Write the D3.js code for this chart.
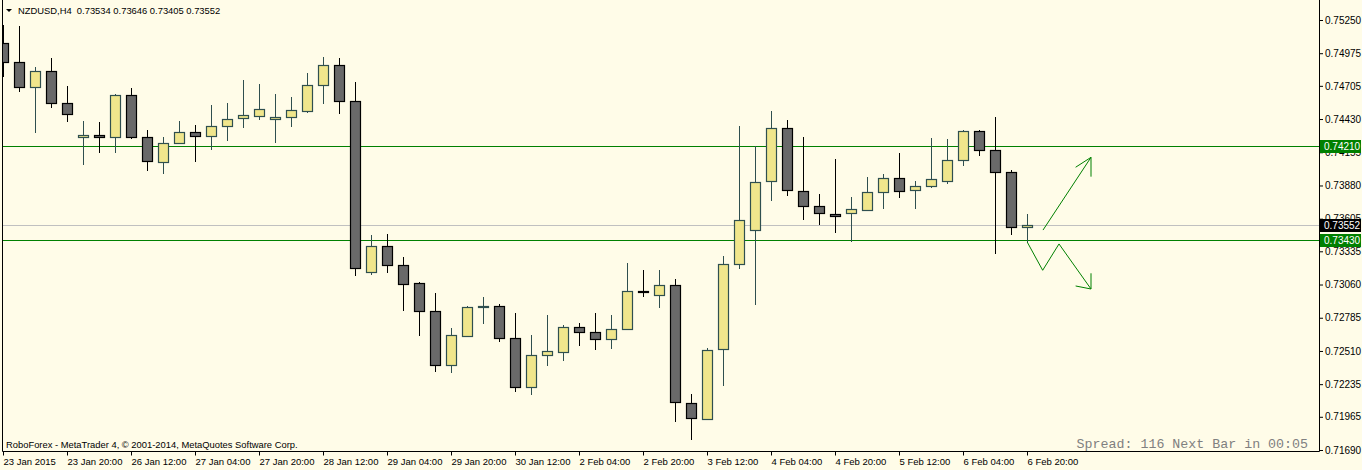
<!DOCTYPE html>
<html>
<head>
<meta charset="utf-8">
<script src="https://cdn.jsdelivr.net/npm/d3@7/dist/d3.min.js"></script>
<style>
  body { margin: 0; background: #fffce8; }
  svg text { font-family: "Liberation Sans", Arial, sans-serif; }
</style>
</head>
<body>
<div class="candle-chart"></div>
<script>
// NZDUSD H4 bars, 23 Jan 04:00 .. 6 Feb 20:00
var symbolTitle = "NZDUSD,H4  0.73534 0.73646 0.73405 0.73552";
var footerText = "RoboForex - MetaTrader 4, \u00a9 2001-2014, MetaQuotes Software Corp.";
var spreadText = "Spread: 116 Next Bar in 00:05";

var opens = [0.75060,0.74902,0.74695,0.74828,0.74563,0.74281,0.74298,0.74281,0.74629,0.74281,
  0.74074,0.74232,0.74323,0.74290,0.74372,0.74439,0.74455,0.74430,0.74447,0.74497,
  0.74712,0.74877,0.74579,0.73164,0.73379,0.73222,0.73073,0.72841,0.72394,0.72634,
  0.72874,0.72882,0.72617,0.72212,0.72477,0.72501,0.72708,0.72667,0.72609,0.72692,
  0.73006,0.72973,0.73056,0.72079,0.71947,0.72526,0.73230,0.73511,0.73917,0.74356,
  0.73834,0.73710,0.73644,0.73652,0.73677,0.73826,0.73942,0.73843,0.73876,0.73917,
  0.74091,0.74331,0.74174,0.73992,0.73534];
var highs = [0.75209,0.75200,0.74861,0.74935,0.74704,0.74414,0.74406,0.74637,0.74687,0.74339,
  0.74281,0.74414,0.74381,0.74546,0.74563,0.74753,0.74720,0.74637,0.74613,0.74811,
  0.74944,0.74935,0.74737,0.73470,0.73478,0.73288,0.73081,0.72990,0.72700,0.72882,
  0.72957,0.72899,0.72824,0.72642,0.72808,0.72725,0.72742,0.72824,0.72808,0.73238,
  0.73180,0.73180,0.73106,0.72154,0.72535,0.73296,0.74372,0.74207,0.74497,0.74422,
  0.74281,0.73810,0.74099,0.73785,0.73950,0.73975,0.74149,0.73917,0.74273,0.74265,
  0.74339,0.74339,0.74447,0.74008,0.73646];
var lows = [0.74778,0.74654,0.74314,0.74521,0.74406,0.74050,0.74149,0.74149,0.74265,0.74000,
  0.73975,0.74223,0.74074,0.74174,0.74248,0.74356,0.74422,0.74232,0.74364,0.74480,
  0.74555,0.74472,0.73131,0.73139,0.73155,0.72841,0.72634,0.72336,0.72328,0.72626,
  0.72733,0.72584,0.72170,0.72145,0.72385,0.72427,0.72551,0.72518,0.72526,0.72684,
  0.72957,0.72866,0.71922,0.71773,0.71940,0.72220,0.73189,0.72891,0.73752,0.73793,
  0.73594,0.73553,0.73487,0.73412,0.73669,0.73685,0.73776,0.73685,0.73859,0.73892,
  0.74041,0.74124,0.73313,0.73470,0.73405];
var closes = [0.74902,0.74695,0.74828,0.74563,0.74472,0.74298,0.74281,0.74629,0.74281,0.74083,
  0.74232,0.74323,0.74290,0.74372,0.74430,0.74464,0.74513,0.74447,0.74505,0.74712,
  0.74877,0.74579,0.73197,0.73379,0.73222,0.73064,0.72841,0.72394,0.72642,0.72874,
  0.72882,0.72617,0.72212,0.72477,0.72510,0.72708,0.72667,0.72609,0.72692,0.73006,
  0.73000,0.73056,0.72087,0.71955,0.72518,0.73230,0.73594,0.73909,0.74356,0.73843,
  0.73710,0.73652,0.73627,0.73685,0.73826,0.73942,0.73834,0.73876,0.73934,0.74091,
  0.74331,0.74174,0.73992,0.73536,0.73552];

// time axis, one label every 4 bars
var timeTickBars = [0,4,8,12,16,20,24,28,32,36,40,44,48,52,56,60,64];
var timeLabels = ["23 Jan 2015","23 Jan 20:00","26 Jan 12:00","27 Jan 04:00","27 Jan 20:00",
  "28 Jan 12:00","29 Jan 04:00","29 Jan 20:00","30 Jan 12:00","2 Feb 04:00","2 Feb 20:00",
  "3 Feb 12:00","4 Feb 04:00","4 Feb 20:00","5 Feb 12:00","6 Feb 04:00","6 Feb 20:00"];
var priceTicks = [0.75250,0.74975,0.74705,0.74430,0.74155,0.73880,0.73605,
  0.73335,0.73060,0.72785,0.72510,0.72235,0.71965,0.71690];

var greenLevels = [0.74210, 0.73430];
var bidLevel = 0.73552;

// hand drawn arrows (bar index, price)
var upArrow = [[65.0,0.73511],[68.0,0.74113]];
var upHead = [[67.04,0.74031],[68.0,0.74113],[68.0,0.73953]];
var downArrow = [[64.02,0.73410],[64.98,0.73178],[66.0,0.73396],[68.0,0.73023]];
var downHead = [[67.04,0.73048],[68.0,0.73023],[68.0,0.73153]];

function CandleChart(){
    var self = this;
    self.init();
};

CandleChart.prototype.init = function(){
    var self = this;
    self.width = 1362;
    self.height = 470;
    self.plot = {left: 3, right: 1319, top: 0, bottom: 451};

    var div = d3.select(".candle-chart");
    self.svg = div.append("svg")
        .attr("width", self.width)
        .attr("height", self.height);

    self.x = d3.scaleLinear().domain([0, 64]).range([3, 1027]);
    self.y = d3.scaleLinear().domain([0.71690, 0.75250]).range([450, 20]);

    self.svg.append("clipPath").attr("id", "plot-clip")
      .append("rect")
        .attr("x", self.plot.left).attr("y", self.plot.top)
        .attr("width", self.plot.right - self.plot.left)
        .attr("height", self.plot.bottom - self.plot.top);
};

CandleChart.prototype.update = function(){
    var self = this;
    var x = self.x, y = self.y;

    var bars = opens.map(function(o, i){
        return {i: i, o: o, h: highs[i], l: lows[i], c: closes[i]};
    });

    var plotG = self.svg.append("g").attr("clip-path", "url(#plot-clip)");

    // level lines
    plotG.append("line")
        .attr("x1", self.plot.left).attr("x2", self.plot.right)
        .attr("y1", Math.round(y(bidLevel)) + 0.5).attr("y2", Math.round(y(bidLevel)) + 0.5)
        .attr("stroke", "#c0c0c0");
    plotG.selectAll(".level")
        .data(greenLevels)
        .enter().append("line")
        .attr("class", "level")
        .attr("x1", self.plot.left).attr("x2", self.plot.right)
        .attr("y1", function(d){ return Math.round(y(d)) + 0.5; })
        .attr("y2", function(d){ return Math.round(y(d)) + 0.5; })
        .attr("stroke", "#008000")
        .attr("stroke-width", 1.2);

    var candle = plotG.selectAll(".candle")
        .data(bars)
        .enter().append("g")
        .attr("class", "candle");

    candle.append("line")
        .attr("x1", function(d){ return Math.round(x(d.i)) + 0.5; })
        .attr("x2", function(d){ return Math.round(x(d.i)) + 0.5; })
        .attr("y1", function(d){ return Math.round(y(d.h)); })
        .attr("y2", function(d){ return Math.round(y(d.l)); })
        .attr("stroke", function(d){ return d.c >= d.o ? "#2f4f4f" : "#000"; });

    candle.append("rect")
        .attr("x", function(d){ return Math.round(x(d.i)) - 4.5; })
        .attr("width", 10)
        .attr("y", function(d){ return Math.round(y(Math.max(d.o, d.c))) + 0.5; })
        .attr("height", function(d){
            return Math.max(0, Math.round(y(Math.min(d.o, d.c))) - Math.round(y(Math.max(d.o, d.c))));
        })
        .attr("fill", function(d){ return d.c >= d.o ? "#f0e68c" : "#696969"; })
        .attr("stroke", function(d){ return d.c >= d.o ? "#2f4f4f" : "#000"; })
        .attr("stroke-width", 1.2);

    // arrows
    var line = d3.line()
        .x(function(d){ return x(d[0]); })
        .y(function(d){ return y(d[1]); });
    plotG.selectAll(".arrow")
        .data([upArrow, upHead, downArrow, downHead])
        .enter().append("path")
        .attr("class", "arrow")
        .attr("d", line)
        .attr("fill", "none")
        .attr("stroke", "#008000")
        .attr("stroke-width", 1);

    // frame
    self.svg.append("path")
        .attr("d", "M" + (self.plot.left - 0.5) + ",0V" + (self.plot.bottom + 0.5) +
              "H" + (self.plot.right + 0.5) + "V0")
        .attr("fill", "none")
        .attr("stroke", "#000");

    // price axis
    var yAxis = self.svg.append("g")
        .attr("transform", "translate(" + (self.plot.right + 1) + ",0)")
        .call(d3.axisRight(y).tickValues(priceTicks).tickFormat(d3.format(".5f")).tickSize(3).tickPadding(2));
    yAxis.select(".domain").remove();
    yAxis.selectAll("text").attr("font-size", 10).attr("fill", "#000")
        .style("font-family", "'Liberation Sans', Arial, sans-serif");
    yAxis.selectAll("line").attr("stroke", "#000");

    // price tags on the right
    var tags = [
        {v: greenLevels[0], fill: "#008000"},
        {v: bidLevel, fill: "#000"},
        {v: greenLevels[1], fill: "#008000"}
    ];
    var tag = self.svg.selectAll(".tag").data(tags).enter().append("g").attr("class", "tag");
    tag.append("rect")
        .attr("x", self.plot.right + 1)
        .attr("y", function(d){ return Math.round(y(d.v)) - 6; })
        .attr("width", 41).attr("height", 13)
        .attr("fill", function(d){ return d.fill; });
    tag.append("text")
        .attr("x", self.plot.right + 5)
        .attr("y", function(d){ return Math.round(y(d.v)) + 4; })
        .attr("font-size", 10).attr("fill", "#fff")
        .text(function(d){ return d3.format(".5f")(d.v); });

    // time axis
    var xAxis = self.svg.append("g")
        .attr("transform", "translate(0," + (self.plot.bottom + 0.5) + ")")
        .call(d3.axisBottom(x).tickValues(timeTickBars)
            .tickFormat(function(d, i){ return timeLabels[i]; }).tickSize(4).tickPadding(3));
    xAxis.select(".domain").remove();
    xAxis.selectAll("line").attr("stroke", "#000");
    xAxis.selectAll("text")
        .attr("text-anchor", "start")
        .attr("dx", 0)
        .attr("font-size", 9.5).attr("fill", "#000")
        .style("font-family", "'Liberation Sans', Arial, sans-serif");

    // title and captions
    self.svg.append("path").attr("d", "M6,9h6l-3,3z").attr("fill", "#000");
    self.svg.append("text")
        .attr("x", 18).attr("y", 14)
        .attr("font-size", 9.4).attr("fill", "#000")
        .style("white-space", "pre")
        .text(symbolTitle);
    self.svg.append("text")
        .attr("x", 6).attr("y", 448)
        .attr("font-size", 9.4).attr("fill", "#000")
        .text(footerText);
    self.svg.append("text")
        .attr("x", 1308).attr("y", 448)
        .attr("text-anchor", "end")
        .attr("font-size", 13.3).attr("fill", "#808080")
        .style("font-family", "'Liberation Mono', 'Courier New', monospace")
        .style("white-space", "pre")
        .text(spreadText);
};

var chart = new CandleChart();
chart.update();
</script>
</body>
</html>
